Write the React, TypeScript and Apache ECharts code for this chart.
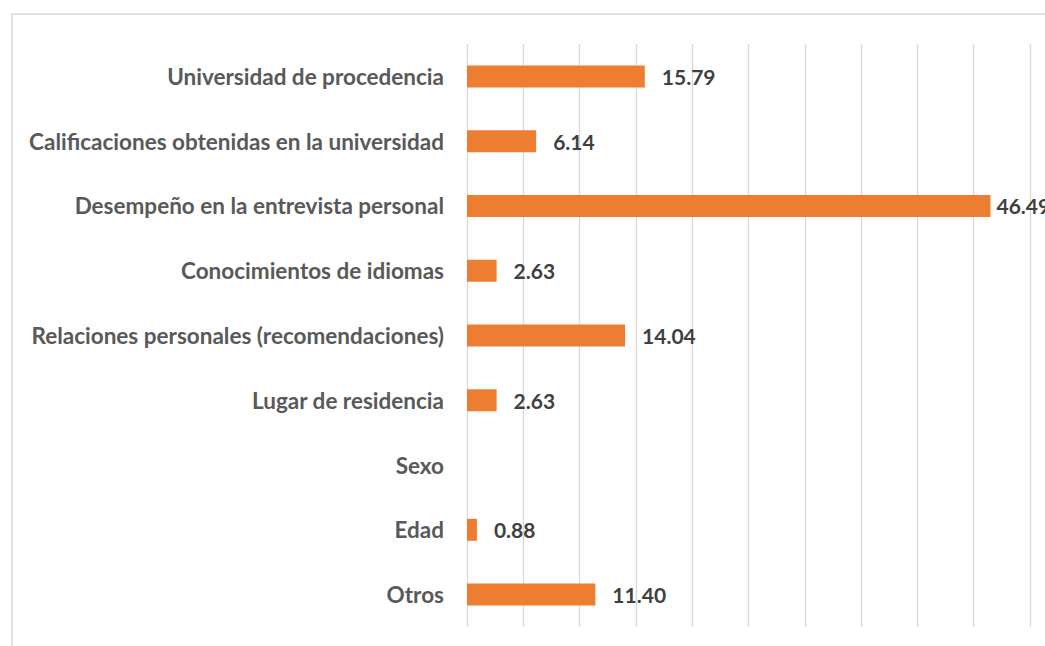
import React, { useEffect, useRef } from "react";
import * as echarts from "echarts";

const categories = [
  "Universidad de procedencia",
  "Calificaciones obtenidas en la universidad",
  "Desempeño en la entrevista personal",
  "Conocimientos de idiomas",
  "Relaciones personales (recomendaciones)",
  "Lugar de residencia",
  "Sexo",
  "Edad",
  "Otros",
];
const values: (number | null)[] = [15.79, 6.14, 46.49, 2.63, 14.04, 2.63, null, 0.88, 11.4];

export default function App() {
  const ref = useRef<HTMLDivElement>(null);
  useEffect(() => {
    const chart = echarts.init(ref.current!, null, { renderer: "svg" });
    const maxVal = Math.max(...values.map((v) => (v === null ? 0 : v)));
    chart.setOption({
      animation: false,
      backgroundColor: "#ffffff",
      graphic: [
        {
          type: "rect",
          shape: { x: 12, y: 14, width: 1200, height: 800 },
          style: { fill: "none", stroke: "#d9d9d9", lineWidth: 1.5 },
          silent: true,
          z: -1,
        },
      ],
      grid: { left: 467, right: 15, top: 44, bottom: 19, containLabel: false },
      xAxis: {
        type: "value",
        min: 0,
        max: 50,
        interval: 5,
        axisLabel: { show: false },
        axisLine: { show: false },
        axisTick: { show: false },
        splitLine: { show: true, lineStyle: { color: "#d9d9d9", width: 1.3 } },
      },
      yAxis: {
        type: "category",
        inverse: true,
        data: categories,
        axisLine: { show: false },
        axisTick: { show: false },
        axisLabel: {
          margin: 23,
          color: "#595959",
          fontFamily: "Lato",
          fontWeight: "bold",
          fontSize: 22.5,
        },
      },
      series: [
        {
          type: "bar",
          data: values.map((v) =>
            v === null ? "-" : v === maxVal ? { value: v, label: { distance: 6 } } : v
          ),
          barWidth: 22,
          itemStyle: { color: "#ED7D31" },
          label: {
            show: true,
            position: "right",
            distance: 17,
            color: "#404040",
            fontFamily: "Lato",
            fontWeight: "bold",
            fontSize: 21,
            formatter: (p: any) => Number(p.value).toFixed(2),
          },
        },
      ],
    });
    return () => chart.dispose();
  }, []);
  return <div ref={ref} style={{ position: "fixed", left: 0, top: 0, width: 1045, height: 646 }} />;
}
